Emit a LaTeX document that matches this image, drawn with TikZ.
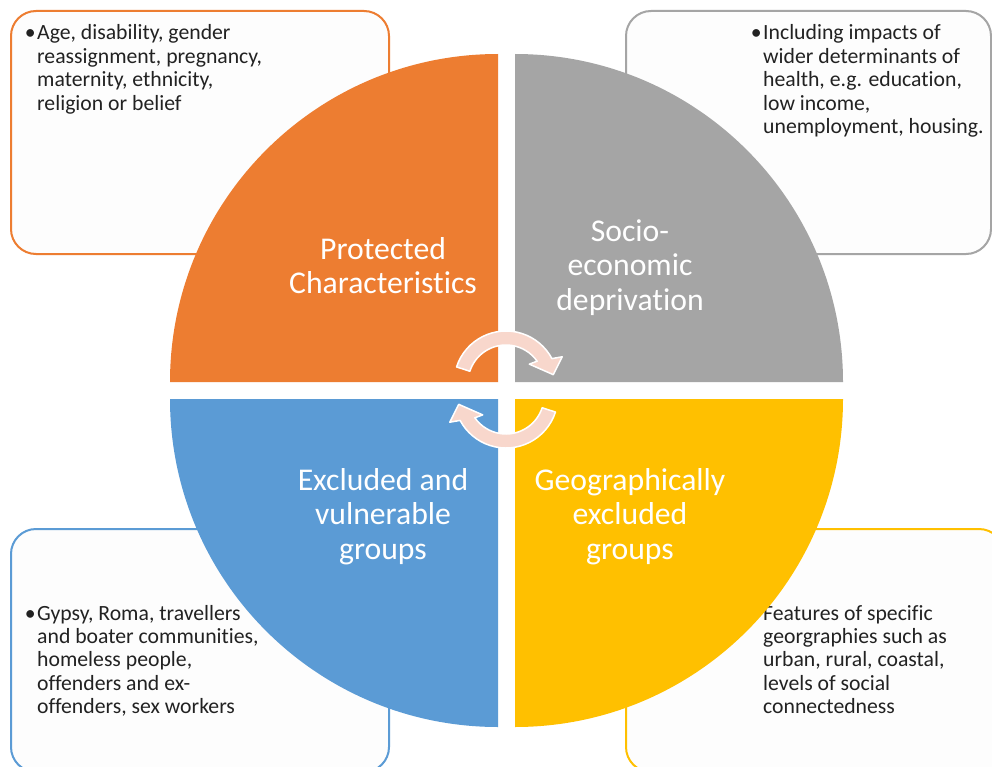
\documentclass[tikz,border=0pt]{standalone}
\usepackage{fontspec}
\setmainfont[Ligatures={NoCommon,NoRare,NoContextual}]{Carlito}
\definecolor{qorange}{RGB}{237,125,49}
\definecolor{qgray}{RGB}{165,165,165}
\definecolor{qblue}{RGB}{91,155,213}
\definecolor{qyellow}{RGB}{255,192,0}
\definecolor{arrowpink}{RGB}{248,215,204}
\definecolor{boxfill}{RGB}{253,253,253}
\definecolor{boxtext}{RGB}{34,34,34}
\begin{document}
\begin{tikzpicture}[x=1bp,y=-1bp,
  infobox/.style={fill=boxfill, line width=2bp, rounded corners=25bp, inner sep=0, anchor=north west},
  btext/.style={inner sep=0, anchor=base west, text=boxtext, font=\fontsize{21.8}{23.5}\selectfont},
  qlabel/.style={inner sep=0, anchor=base, text=white, font=\fontsize{31.8}{35}\selectfont},
  cyclearrow/.style={fill=arrowpink, draw=white, line width=1.5bp, line join=round}]
\useasboundingbox (0,0) rectangle (992,767);
\clip (0,0) rectangle (992,767);
\fill[white] (0,0) rectangle (992,767);

% info boxes
\node[infobox, draw=qorange, minimum width=378bp, minimum height=243bp] (pcbox) at (10,10) {};
\node[infobox, draw=qgray, minimum width=365bp, minimum height=243bp] (sebox) at (625,10) {};
\node[infobox, draw=qblue, minimum width=378bp, minimum height=243bp] (evbox) at (10,528) {};
\node[infobox, draw=qyellow, minimum width=378bp, minimum height=243bp] (gebox) at (625,528) {};

% box texts
\node[btext] (pctext) at (37,40) {\begin{tabular}[t]{@{}l@{}}\llap{\textbullet\hspace{1.5bp}}Age, disability, gender\\ reassignment, pregnancy,\\ maternity, ethnicity,\\ religion or belief\end{tabular}};
\node[btext] (setext) at (763,40) {\begin{tabular}[t]{@{}l@{}}\llap{\textbullet\hspace{1.5bp}}Including impacts of\\ wider determinants of\\ health, e.g. education,\\ low income,\\ unemployment, housing.\end{tabular}};
\node[btext] (evtext) at (37,620) {\begin{tabular}[t]{@{}l@{}}\llap{\textbullet\hspace{1.5bp}}Gypsy, Roma, travellers\\ and boater communities,\\ homeless people,\\ offenders and ex-\\ offenders, sex workers\end{tabular}};
\node[btext] (getext) at (763,620) {\begin{tabular}[t]{@{}l@{}}\llap{\textbullet\hspace{1.5bp}}Features of specific\\ georgraphies such as\\ urban, rural, coastal,\\ levels of social\\ connectedness\end{tabular}};

% quadrants
\fill[qorange] (498,382) -- (170,382) arc[start angle=180, end angle=270, radius=328] -- cycle;
\fill[qgray] (515,382) -- (515,54) arc[start angle=270, end angle=360, radius=328] -- cycle;
\fill[qblue] (498,399) -- (170,399) arc[start angle=180, end angle=90, radius=328] -- cycle;
\fill[qyellow] (515,399) -- (843,399) arc[start angle=0, end angle=90, radius=328] -- cycle;

% quadrant labels
\node[qlabel] (pclabel) at (383,259) {\begin{tabular}[t]{@{}c@{}}Protected\\ Characteristics\end{tabular}};
\node[qlabel] (selabel) at (630,241) {\begin{tabular}[t]{@{}c@{}}Socio-\\ economic\\ deprivation\end{tabular}};
\node[qlabel] (evlabel) at (383,490) {\begin{tabular}[t]{@{}c@{}}Excluded and\\ vulnerable\\ groups\end{tabular}};
\node[qlabel] (gelabel) at (630,490) {\begin{tabular}[t]{@{}c@{}}Geographically\\ excluded\\ groups\end{tabular}};

% cycle arrows
\begin{scope}[shift={(506,383)}, yscale=-1]
\draw[cyclearrow] (162:52) arc[start angle=162, end angle=28, radius=52] -- (25:62) -- (10:48) -- (39:30) -- (35:38) arc[start angle=35, end angle=162, radius=38] -- cycle;
\end{scope}
\begin{scope}[shift={(506,396)}, yscale=-1, rotate=180]
\draw[cyclearrow] (162:52) arc[start angle=162, end angle=28, radius=52] -- (25:62) -- (10:48) -- (39:30) -- (35:38) arc[start angle=35, end angle=162, radius=38] -- cycle;
\end{scope}
\end{tikzpicture}
\end{document}
